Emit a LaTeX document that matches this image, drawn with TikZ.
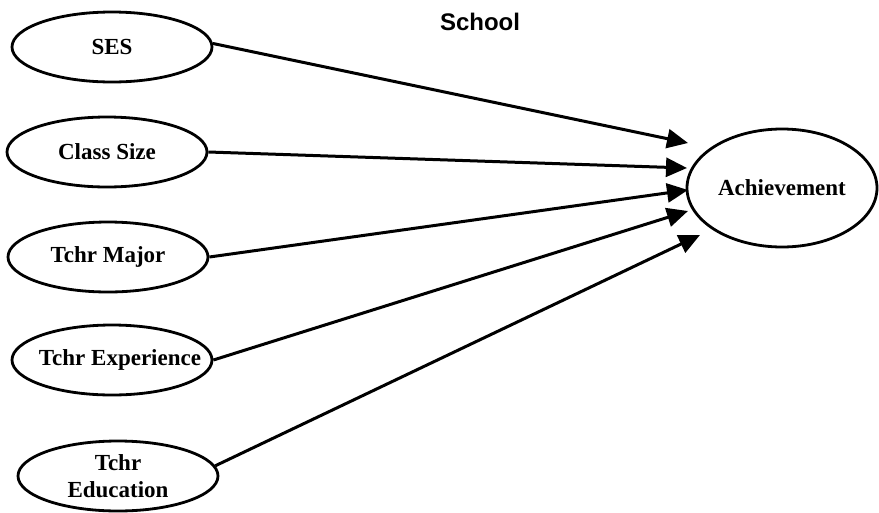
\documentclass[tikz,border=0pt]{standalone}
\usepackage{fontspec}
\setmainfont{Liberation Serif}
\setsansfont{Liberation Sans}
\usetikzlibrary{shapes.geometric,arrows.meta}
\begin{document}
\begin{tikzpicture}[x=1pt,y=-1pt,
  var/.style={ellipse,draw,line width=2.8pt,inner sep=0pt,
    minimum width=200pt,minimum height=70pt,
    font=\fontsize{23}{27}\selectfont\bfseries,align=center},
  path/.style={line width=3pt,-{Triangle[length=21pt,width=19pt]}}]
\useasboundingbox (0,0) rectangle (879,512);

\node[font=\sffamily\bfseries\fontsize{24}{28}\selectfont] (title) at (480,22) {School};

\node[var] (ses) at (112,47) {SES};
\node[var] (cls) at (107,152) {Class Size};
\node[var] (maj) at (108,257) {Tchr Major};
% the label runs up to the border, so it must not widen the ellipse
\node[var] (exp) at (112,360) {\makebox[0pt]{\kern16pt Tchr Experience}};
\node[var] (edu) at (118,476) {Tchr\\Education};
\node[var,minimum width=190pt,minimum height=118pt] (ach) at (782,188) {Achievement};

\coordinate (t1) at (688,143);
\coordinate (t2) at (687,168);
\coordinate (t3) at (688,190);
\coordinate (t4) at (688,211);
\coordinate (t5) at (700,235);

\draw[path] (ses.2) -- (t1);
\draw[path] (cls.east) -- (t2);
\draw[path] (maj.east) -- (t3);
\draw[path] (exp.east) -- (t4);
\draw[path] (edu.6) -- (t5);
\end{tikzpicture}
\end{document}
